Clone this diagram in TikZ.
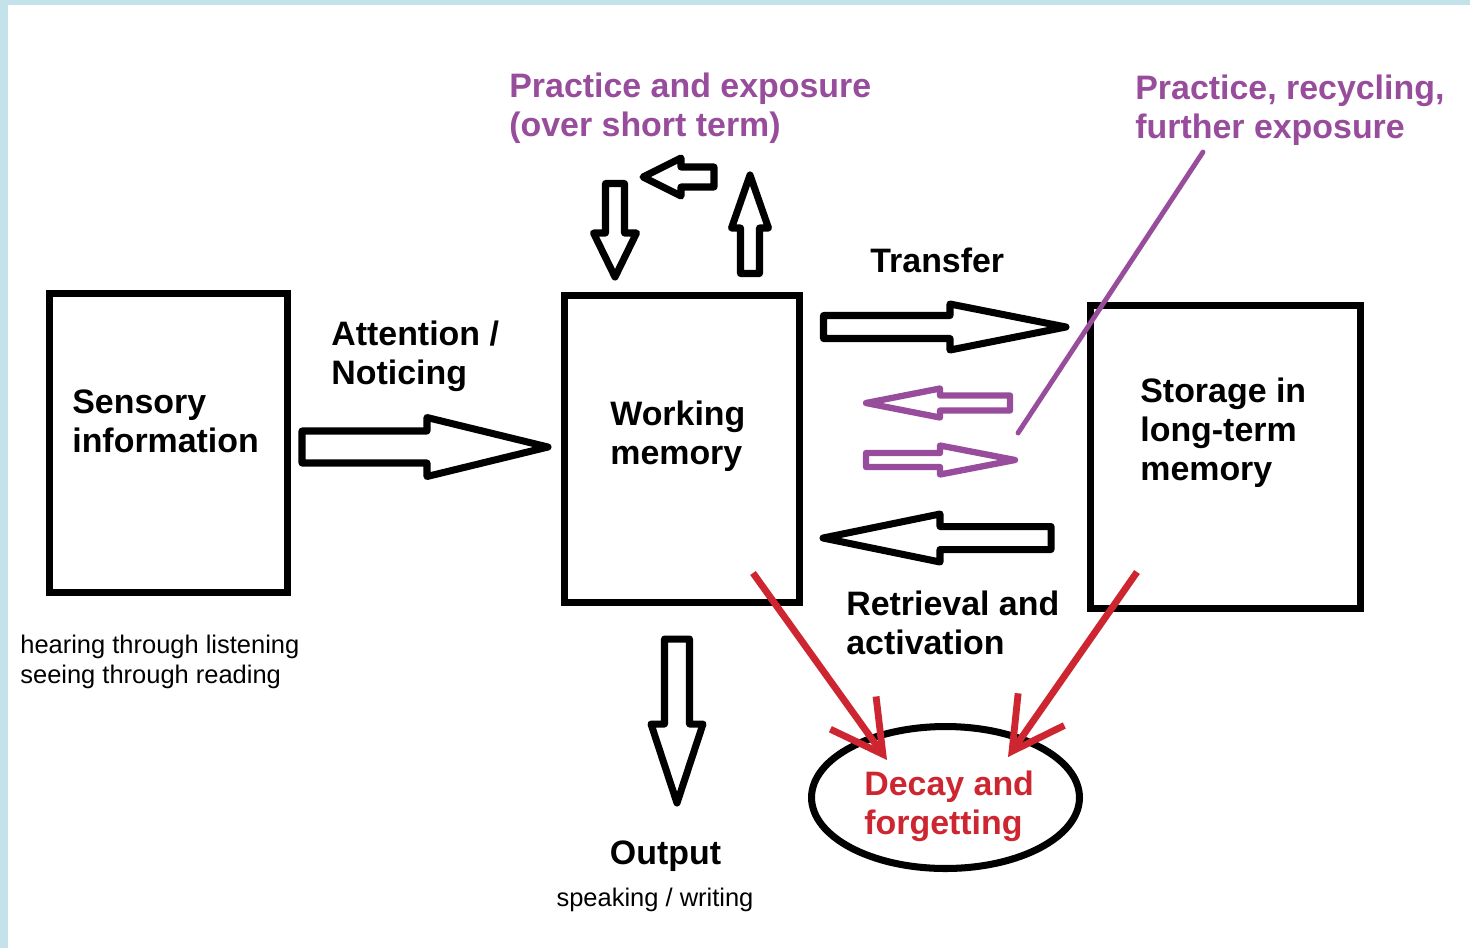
\documentclass[tikz,border=0pt]{standalone}
\usepackage{fontspec}
\setmainfont{Liberation Sans}
\usetikzlibrary{calc,arrows.meta,shapes.geometric}
\definecolor{bgblue}{RGB}{196,226,234}
\definecolor{practice}{RGB}{152,76,156}
\definecolor{decay}{RGB}{206,38,48}
\def\flatarrow[#1](#2:#3:#4)(#5:#6:#7){\draw[#1] (#2,#4-#6) -- (#5,#4-#6) -- (#5,#4-#7) -- (#3,#4) -- (#5,#4+#7) -- (#5,#4+#6) -- (#2,#4+#6) -- cycle;}
\def\tallarrow[#1](#2:#3:#4)(#5:#6:#7){\draw[#1] (#4-#6,#2) -- (#4-#6,#5) -- (#4-#7,#5) -- (#4,#3) -- (#4+#7,#5) -- (#4+#6,#5) -- (#4+#6,#2) -- cycle;}

\begin{document}
\begin{tikzpicture}[x=0.02cm, y=-0.02cm,
	memorybox/.style={draw, line width=4pt, minimum width=#1, inner sep=0pt},
	blockarrow/.style={line width=4pt, line join=round},
	purplearrow/.style={line width=3.6pt, line join=round, color=practice},
	headtext/.style={font=\fontsize{19.3}{22.1}\selectfont\bfseries, align=left, inner sep=0pt},
	notetext/.style={font=\fontsize{14.5}{17}\selectfont, align=left, inner sep=0pt},
	fade/.style={line width=3.9pt, color=decay, -{Straight Barb[length=29pt, width=32pt]}}]
			%%%%% START %%%%%
			
			\useasboundingbox (0,0) rectangle (1470,948);
			\fill[bgblue] (0,0) rectangle (1470,948);
			\fill[white] (8,5) rectangle (1470,948);
			
			\node[memorybox=4.78cm, minimum height=6cm] (sensory) at (168.5,443) {};
			\node[memorybox=4.7cm, minimum height=6.14cm] (working) at (682,449) {};
			\node[memorybox=5.4cm, minimum height=6.06cm] (storage) at (1225.5,457) {};
			\node[draw, ellipse, line width=4pt, minimum width=5.36cm, minimum height=2.84cm, inner sep=0pt] (forget) at (945.5,797.5) {};
			
			\node[headtext, anchor=west] (sensorytext) at (72,421) {Sensory\\information};
			\node[headtext, anchor=west] (workingtext) at (610,436) {Working\\memory};
			\node[headtext, anchor=west] (storagetext) at (1140,433) {Storage in\\long-term\\memory};
			\node[headtext, anchor=west, text=decay] (forgettext) at (864,806) {Decay and\\forgetting};
			
			\node[headtext, anchor=west] (attention) at (331,356) {Attention /\\Noticing};
			\node[headtext, anchor=base west] (transfer) at (870,272) {Transfer};
			\node[headtext, anchor=west] (retrieval) at (846,623) {Retrieval and\\activation};
			\node[headtext, anchor=base] (output) at (665.5,864) {Output};
			\node[notetext, anchor=base] (speaking) at (655,906.6) {speaking / writing};
			\node[notetext, anchor=west] (hearing) at (20,662) {hearing through listening\\seeing through reading};
			\node[headtext, anchor=west, text=practice] (shortterm) at (509,108) {Practice and exposure\\(over short term)};
			\node[headtext, anchor=west, text=practice] (longterm) at (1135,110) {Practice, recycling,\\further exposure};
			
			\flatarrow[blockarrow](302:548:447)(427:16:29.5)
			\flatarrow[blockarrow](823.5:1066:327)(950:11.5:23)
			\flatarrow[blockarrow](1051:823:538)(940:11.5:24)
			\tallarrow[blockarrow](639:803:677)(724:12.5:26)
			
			\tallarrow[blockarrow](183.5:277:615)(233:9.5:21.5)
			\tallarrow[blockarrow](273.5:175:750)(228:9.5:18.5)
			\flatarrow[blockarrow](714:643:177)(681:10:19)
			
			\flatarrow[purplearrow](1010:866:403)(940:7.5:14.5)
			\flatarrow[purplearrow](866:1015:460)(940:7:14.5)
			
			\coordinate (loopend) at (1018,433);
			\coordinate (loopstart) at (1203,152);
			\draw[line width=2.8pt, color=practice, line cap=round] (loopstart) -- (loopend);
			
			\coordinate (workingfade) at (753,573);
			\coordinate (storagefade) at (1137,572);
			\coordinate (forgetleft) at (887,760);
			\coordinate (forgetright) at (1008,757);
			\draw[fade] (workingfade) -- (forgetleft);
			\draw[fade] (storagefade) -- (forgetright);
			
			%%%%% END %%%%%
\end{tikzpicture}
\end{document}
